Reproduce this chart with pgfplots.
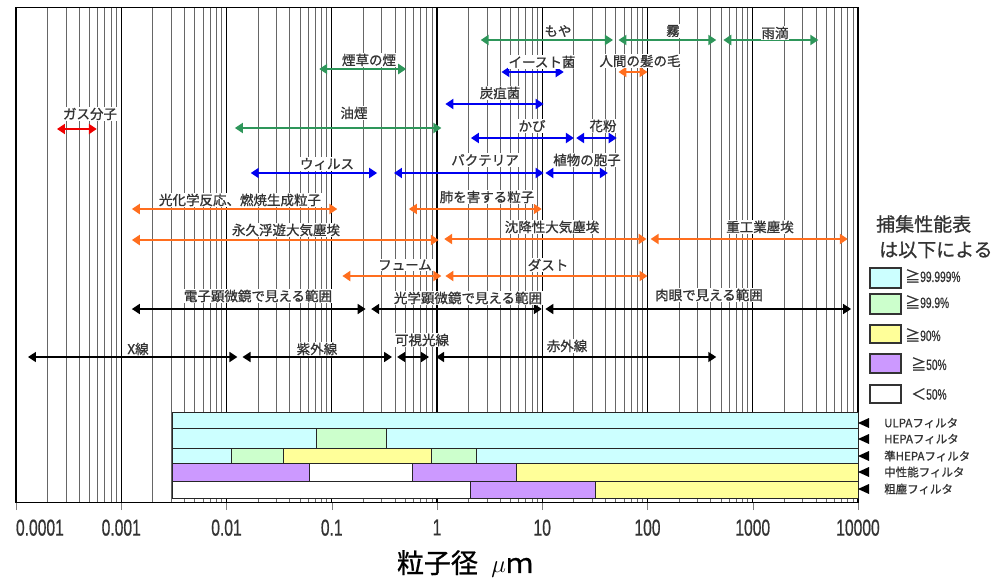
\documentclass[border=0pt]{standalone}
\usepackage{fontspec}
\usepackage{pgfplots}
\pgfplotsset{compat=1.18}
\usetikzlibrary{arrows.meta}
\setmainfont{Liberation Sans}
\newfontfamily\jp{Noto Sans CJK JP}
\newfontfamily\jpb[FakeBold=0.9]{Noto Sans CJK JP}
\newfontfamily\narrow[FakeStretch=0.68]{Liberation Sans}
\newfontfamily\narrowb[FakeStretch=0.68,FakeBold=0.6]{Liberation Sans}
\definecolor{cgreen}{RGB}{46,150,90}
\definecolor{cblue}{RGB}{0,0,240}
\definecolor{corange}{RGB}{255,110,30}
\definecolor{cred}{RGB}{240,0,0}
\definecolor{fcyan}{RGB}{204,255,255}
\definecolor{fgreen}{RGB}{204,255,204}
\definecolor{fyellow}{RGB}{255,255,153}
\definecolor{fpurple}{RGB}{204,153,255}
\pgfplotsset{
  arr/.style={line width=2pt, <->, >={Triangle[length=8pt,width=10pt]}},
  barr/.style={line width=1.6pt, black, <->, >={Triangle[length=8pt,width=10pt]}},
  fbar/.style={draw=black!85, line width=1pt},
}
\begin{document}
\begin{tikzpicture}
\useasboundingbox (-16pt,-79pt) rectangle (982pt,502pt);
\begin{axis}[
  at={(0pt,0pt)}, anchor=south west,
  scale only axis, width=842pt, height=495pt,
  xmode=log, xmin=1e-4, xmax=1e4,
  ymin=7, ymax=502, y dir=reverse,
  ytick=\empty,
  xtick={1e-4,1e-3,0.01,0.1,1,10,100,1000,10000},
  xticklabels={\makebox[0pt][l]{0.0001},0.001,0.01,0.1,1,10,100,1000,10000},
  xmajorgrids, xminorgrids,
  major grid style={black, line width=1.1pt},
  minor grid style={black!60, line width=1pt},
  tick align=outside, major tick length=8pt, minor tick length=0pt,
  tick pos=left,
  axis line style={black, line width=1pt},
  xticklabel style={font=\narrowb\fontsize{23}{23}\selectfont, text=black!80, yshift=-6pt},
  clip=false,
]
% filter bars
\addplot[fbar, fill=fcyan] coordinates {(0.0031,412) (10000,412) (10000,428) (0.0031,428)} -- cycle;
\addplot[fbar, fill=fcyan] coordinates {(0.0031,428) (0.072,428) (0.072,448) (0.0031,448)} -- cycle;
\addplot[fbar, fill=fgreen] coordinates {(0.072,428) (0.333,428) (0.333,448) (0.072,448)} -- cycle;
\addplot[fbar, fill=fcyan] coordinates {(0.333,428) (10000,428) (10000,448) (0.333,448)} -- cycle;
\addplot[fbar, fill=fcyan] coordinates {(0.0031,448) (0.0112,448) (0.0112,463) (0.0031,463)} -- cycle;
\addplot[fbar, fill=fgreen] coordinates {(0.0112,448) (0.0347,448) (0.0347,463) (0.0112,463)} -- cycle;
\addplot[fbar, fill=fyellow] coordinates {(0.0347,448) (0.89,448) (0.89,463) (0.0347,463)} -- cycle;
\addplot[fbar, fill=fgreen] coordinates {(0.89,448) (2.38,448) (2.38,463) (0.89,463)} -- cycle;
\addplot[fbar, fill=fcyan] coordinates {(2.38,448) (10000,448) (10000,463) (2.38,463)} -- cycle;
\addplot[fbar, fill=fpurple] coordinates {(0.0031,463) (0.061,463) (0.061,481) (0.0031,481)} -- cycle;
\addplot[fbar, fill=white] coordinates {(0.061,463) (0.58,463) (0.58,481) (0.061,481)} -- cycle;
\addplot[fbar, fill=fpurple] coordinates {(0.58,463) (5.7,463) (5.7,481) (0.58,481)} -- cycle;
\addplot[fbar, fill=fyellow] coordinates {(5.7,463) (10000,463) (10000,481) (5.7,481)} -- cycle;
\addplot[fbar, fill=white] coordinates {(0.0031,481) (2.06,481) (2.06,498) (0.0031,498)} -- cycle;
\addplot[fbar, fill=fpurple] coordinates {(2.06,481) (32,481) (32,498) (2.06,498)} -- cycle;
\addplot[fbar, fill=fyellow] coordinates {(32,481) (10000,481) (10000,498) (32,498)} -- cycle;
% green arrows
\addplot[arr, cgreen] coordinates {(2.6,40) (47,40)};
\addplot[arr, cgreen] coordinates {(53,40) (450,40)};
\addplot[arr, cgreen] coordinates {(525,40) (4200,40)};
\addplot[arr, cgreen] coordinates {(0.076,69) (0.51,69)};
\addplot[arr, cgreen] coordinates {(0.012,128) (1.1,128)};
% blue arrows
\addplot[arr, cblue] coordinates {(4.1,72) (16,72)};
\addplot[arr, cblue] coordinates {(1.2,104) (10.3,104)};
\addplot[arr, cblue] coordinates {(2.1,138) (20,138)};
\addplot[arr, cblue] coordinates {(21,138) (51,138)};
\addplot[arr, cblue] coordinates {(0.017,173) (0.27,173)};
\addplot[arr, cblue] coordinates {(0.39,173) (10.3,173)};
\addplot[arr, cblue] coordinates {(10.7,173) (42,173)};
% orange arrows
\addplot[arr, corange] coordinates {(53,72) (100,72)};
\addplot[arr, corange] coordinates {(0.00126,209) (0.113,209)};
\addplot[arr, corange] coordinates {(0.54,209) (9.9,209)};
\addplot[arr, corange] coordinates {(0.00126,240) (1.04,240)};
\addplot[arr, corange] coordinates {(1.17,239) (98,239)};
\addplot[arr, corange] coordinates {(107,239) (8000,239)};
\addplot[arr, corange] coordinates {(0.126,276) (1.1,276)};
\addplot[arr, corange] coordinates {(1.2,276) (100,276)};
% red arrow
\addplot[arr, cred] coordinates {(0.000245,129) (0.000586,129)};
% black arrows
\addplot[barr] coordinates {(0.00126,309) (0.21,309)};
\addplot[barr] coordinates {(0.237,309) (9.9,309)};
\addplot[barr] coordinates {(10.7,309) (8600,309)};
\addplot[barr] coordinates {(0.00013,357) (0.0127,357)};
\addplot[barr] coordinates {(0.0142,357) (0.374,357)};
\addplot[barr] coordinates {(0.418,357) (0.84,357)};
\addplot[barr] coordinates {(0.98,357) (450,357)};
\end{axis}
\begin{scope}[x=1pt,y=-1pt,shift={(-16pt,502pt)},
  lab/.style={font=\jpb\fontsize{13.5}{14}\selectfont, fill=white, inner sep=0.8pt, text=black!80}]
\node[lab] at (558,31) {もや};
\node[lab] at (673,31) {霧};
\node[lab] at (775,33) {雨滴};
\node[lab] at (369,60) {煙草の煙};
\node[lab] at (354,113) {油煙};
\node[lab] at (542,62) {イースト菌};
\node[lab] at (500,93) {炭疽菌};
\node[lab] at (532,126) {かび};
\node[lab] at (603,126) {花粉};
\node[lab] at (327,164) {ウィルス};
\node[lab] at (485,160) {バクテリア};
\node[lab] at (587,160) {植物の胞子};
\node[lab] at (640,61) {人間の髪の毛};
\node[lab] at (240,200) {光化学反応、燃焼生成粒子};
\node[lab] at (487,197) {肺を害する粒子};
\node[lab] at (286,230) {永久浮遊大気塵埃};
\node[lab] at (552,227) {沈降性大気塵埃};
\node[lab] at (760,227) {重工業塵埃};
\node[lab] at (405,265) {フューム};
\node[lab] at (548,265) {ダスト};
\node[lab] at (90,114) {ガス分子};
\node[lab] at (258,296) {電子顕微鏡で見える範囲};
\node[lab] at (468,298) {光学顕微鏡で見える範囲};
\node[lab] at (709,295) {肉眼で見える範囲};
\node[lab] at (138,349) {X線};
\node[lab] at (317,349) {紫外線};
\node[lab] at (422,340) {可視光線};
\node[lab] at (567,346) {赤外線};
% legend
\node[anchor=west, font=\jpb\fontsize{19}{19}\selectfont, text=black!80, inner sep=0pt] at (876,224) {捕集性能表};
\node[anchor=west, font=\jpb\fontsize{19}{19}\selectfont, text=black!80, inner sep=0pt] at (879,250) {は以下による};
\draw[fill=fcyan, draw=black!80, line width=1.2pt] (870,268) rectangle (901,288);
\draw[fill=fgreen, draw=black!80, line width=1.2pt] (870,294) rectangle (901,314);
\draw[fill=fyellow, draw=black!80, line width=1.2pt] (870,325) rectangle (901,343);
\draw[fill=fpurple, draw=black!80, line width=1.2pt] (870,354) rectangle (901,373);
\draw[fill=white, draw=black!80, line width=1.2pt] (870,385) rectangle (901,403);
\begin{scope}[every node/.style={anchor=west, inner sep=0pt, text=black!80, font=\narrowb\fontsize{15}{15}\selectfont}]
\node at (905,276) {{\jpb ≧}99.999\%};
\node at (905,302) {{\jpb ≧}99.9\%};
\node at (905,335) {{\jpb ≧}90\%};
\node at (911,364) {{\jpb ≧}50\%};
\node at (911,394) {{\jpb ＜}50\%};
\end{scope}
% filter labels
\foreach \yy/\tt in {423/ULPAフィルタ, 439/HEPAフィルタ, 456/準HEPAフィルタ, 472/中性能フィルタ, 489/粗塵フィルタ}{
  \fill[black] (869,\yy-5) -- (858,\yy) -- (869,\yy+5) -- cycle;
  \node[anchor=west, inner sep=0pt, font=\jpb\fontsize{11.5}{12}\selectfont, text=black!80] at (884,\yy) {\tt};
}
% x label
\node[font=\jpb\fontsize{27}{27}\selectfont, text=black] at (465,564) {粒子径\hspace{0.5em}$\mu$ｍ};
\end{scope}
\end{tikzpicture}
\end{document}
